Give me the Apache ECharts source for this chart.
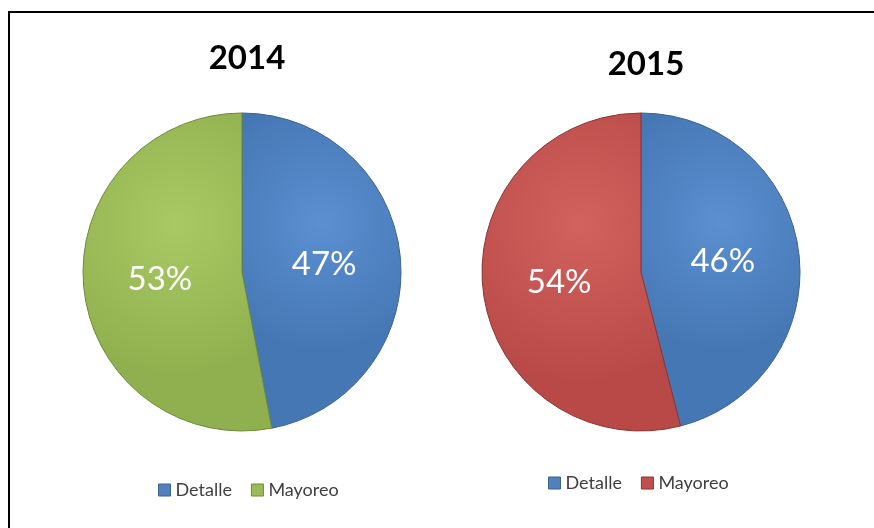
<!DOCTYPE html>
<html>
<head>
<meta charset="utf-8">
<script src="https://cdn.jsdelivr.net/npm/echarts@6/dist/echarts.min.js"></script>
<style>
  html, body { margin: 0; padding: 0; background: #fff; }
  #chart { width: 874px; height: 528px; }
</style>
</head>
<body>
<div id="chart"></div>
<script>
// datos
var categorias = ['Detalle', 'Mayoreo'];
var valores2014 = [47, 53];
var valores2015 = [46, 54];
var titulos = ['2014', '2015'];

var azul = '#4F81BD', verde = '#9BBB59', rojo = '#C0504D';

function grad(c1, c2) {
  return new echarts.graphic.RadialGradient(0.5, 0.35, 0.8, [
    { offset: 0, color: c1 },
    { offset: 1, color: c2 }
  ]);
}
var estilos2014 = [
  { color: grad('#5b8fd0', '#4677b5'), borderColor: '#3b6490' },
  { color: grad('#a9c964', '#90b04f'), borderColor: '#6f8a3a' }
];
var estilos2015 = [
  { color: grad('#5b8fd0', '#4677b5'), borderColor: '#3b6490' },
  { color: grad('#d2625e', '#b84946'), borderColor: '#8c3533' }
];

function datos(valores, estilos) {
  return categorias.map(function (c, i) {
    return { name: c, value: valores[i], itemStyle: estilos[i] };
  });
}

var chart = echarts.init(document.getElementById('chart'), null, { renderer: 'canvas' });

var etiqueta = {
  show: true,
  position: 'inner',
  formatter: '{c}%',
  color: '#fff',
  fontSize: 33,
  fontFamily: 'Lato'
};

var textoLeyenda = { fontFamily: 'Lato', fontSize: 18, color: '#404040' };

var option = {
  animation: false,
  backgroundColor: '#fff',
  graphic: [{
    type: 'rect',
    shape: { x: 9, y: 12, width: 900, height: 600 },
    style: { fill: 'none', stroke: '#000', lineWidth: 2 }
  }],
  title: [
    { text: titulos[0], left: 242, top: 37, textAlign: 'center',
      textStyle: { fontFamily: 'Lato', fontWeight: 'bold', fontSize: 33, color: '#000' } },
    { text: titulos[1], left: 641, top: 43, textAlign: 'center',
      textStyle: { fontFamily: 'Lato', fontWeight: 'bold', fontSize: 33, color: '#000' } }
  ],
  legend: [
    {
      left: 153, top: 476, itemWidth: 12, itemHeight: 12, itemGap: 19, icon: 'rect',
      textStyle: textoLeyenda,
      data: [
        { name: categorias[0], itemStyle: { color: azul, borderColor: '#3b6490', borderWidth: 1 } },
        { name: categorias[1], itemStyle: { color: verde, borderColor: '#6f8a3a', borderWidth: 1 } }
      ]
    },
    {
      left: 543, top: 469, itemWidth: 12, itemHeight: 12, itemGap: 19, icon: 'rect',
      textStyle: textoLeyenda,
      data: [
        { name: categorias[0], itemStyle: { color: azul, borderColor: '#3b6490', borderWidth: 1 } },
        { name: categorias[1], itemStyle: { color: rojo, borderColor: '#8c3533', borderWidth: 1 } }
      ]
    }
  ],
  series: [
    {
      name: titulos[0],
      type: 'pie',
      center: [242, 272],
      radius: 159,
      startAngle: 90,
      clockwise: true,
      label: etiqueta,
      labelLine: { show: false },
      itemStyle: { borderWidth: 1 },
      data: datos(valores2014, estilos2014)
    },
    {
      name: titulos[1],
      type: 'pie',
      center: [641, 272],
      radius: 159,
      startAngle: 90,
      clockwise: true,
      label: etiqueta,
      labelLine: { show: false },
      itemStyle: { borderWidth: 1 },
      data: datos(valores2015, estilos2015)
    }
  ]
};

chart.setOption(option);
</script>
</body>
</html>
